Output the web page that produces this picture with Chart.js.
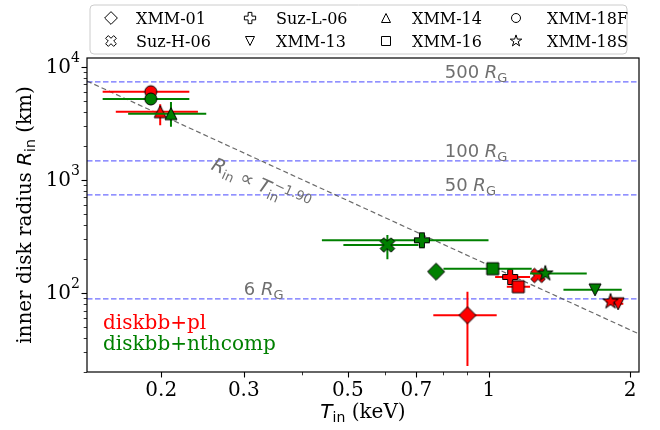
<!DOCTYPE html>
<html>
<head>
<meta charset="utf-8">
<script src="https://cdn.jsdelivr.net/npm/chart.js@4.4.1/dist/chart.umd.min.js"></script>
<style>
  html, body { margin: 0; padding: 0; background: #fff; }
</style>
</head>
<body>
<canvas id="chart" width="660" height="430"></canvas>
<script>
// observations, in legend order (matplotlib fills columns first)
const obsNames   = ['XMM-01', 'Suz-H-06', 'Suz-L-06', 'XMM-13', 'XMM-14', 'XMM-16', 'XMM-18F', 'XMM-18S'];
const obsMarkers = ['D', 'X', 'P', 'v', '^', 's', 'o', '*'];

// diskbb+pl (red): T_in (keV), R_in (km) and their error ranges
const plT    = [0.900, 1.273, 1.110, 1.886, 0.199, 1.155, 0.190, 1.817];
const plTlo  = [0.761, 1.250, 1.031, 1.840, 0.160, 1.092, 0.150, 1.775];
const plThi  = [1.039, 1.300, 1.224, 1.935, 0.2395, 1.224, 0.2296, 1.860];
const plR    = [63.5, 142.9, 138.6, 80.3, 4020, 113.7, 6040, 84.1];
const plRlo  = [22.6, 136, 128, 77, 3048, 108, 5800, 80];
const plRhi  = [102.7, 150, 150, 84, 4677, 120, 6300, 88];

// diskbb+nthcomp (green)
const ncT    = [0.7716, 0.6074, 0.7195, 1.684, 0.2098, 1.019, 0.190, 1.319];
const ncTlo  = [0.760, 0.4893, 0.4403, 1.442, 0.170, 0.800, 0.150, 1.224];
const ncThi  = [0.783, 0.7076, 0.998, 1.920, 0.2495, 1.234, 0.2296, 1.617];
const ncR    = [154.4, 266, 292.6, 106.7, 3863, 164, 5210, 148.8];
const ncRlo  = [150, 199, 275, 103, 2963, 158, 5000, 140];
const ncRhi  = [159, 326, 310, 110, 4900, 170, 5400, 160];

// reference radii (km) for 6, 50, 100, 500 R_G
const rgNames  = ['6', '50', '100', '500'];
const rgValues = [88.6, 738, 1477, 7385];

// R_in ∝ T_in^-1.90 line, end points
const fitT = [0.1389, 2.09];
const fitR = [7500, 43.4];

// axis limits and ticks
const xLim   = [0.1389, 2.09];
const yLim   = [20, 12000];
const xMajor = [0.2, 0.3, 0.5, 0.7, 1, 2];
const xMinor = [0.4, 0.6, 0.8, 0.9];
const yMajor = [100, 1000, 10000];
const yMinor = [20, 30, 40, 50, 60, 70, 80, 90, 200, 300, 400, 500, 600, 700, 800, 900,
                2000, 3000, 4000, 5000, 6000, 7000, 8000, 9000];

const SERIF = '"DejaVu Serif", serif';
const SANS  = '"DejaVu Sans", sans-serif';
const RED   = '#ff0000';
const GREEN = '#008000';

/**
 * Build a matplotlib-like marker as a small canvas (used as pointStyle).
 * The filled plus, filled x and star look larger than their nominal size.
 */
function make_marker(kind, fill, ms) {
  const scale = { P: 1.25, X: 1.2, '*': 1.35 }[kind] || 1;
  const m = ms * scale;
  const size = 2 * Math.ceil(m * 0.75 + 2);
  const cv = document.createElement('canvas');
  cv.width = cv.height = size;
  const g = cv.getContext('2d');
  const c = size / 2;
  const h = m / 2;
  let pts = null;
  g.beginPath();
  switch (kind) {
    case 'o': g.arc(c, c, h, 0, Math.PI * 2); break;
    case 's': pts = [[-h, -h], [h, -h], [h, h], [-h, h]]; break;
    case 'D': { const d = h * Math.SQRT2; pts = [[0, -d], [d, 0], [0, d], [-d, 0]]; break; }
    case '^': pts = [[0, -h], [h, h], [-h, h]]; break;
    case 'v': pts = [[0, h], [h, -h], [-h, -h]]; break;
    case 'P':
      pts = [[-1, -3], [1, -3], [1, -1], [3, -1], [3, 1], [1, 1],
             [1, 3], [-1, 3], [-1, 1], [-3, 1], [-3, -1], [-1, -1]].map(([x, y]) => [x * m / 6, y * m / 6]);
      break;
    case 'X':
      pts = [[-1, -2], [0, -1], [1, -2], [2, -1], [1, 0], [2, 1],
             [1, 2], [0, 1], [-1, 2], [-2, 1], [-1, 0], [-2, -1]].map(([x, y]) => [x * m / 4, y * m / 4]);
      break;
    case '*':
      pts = [];
      for (let i = 0; i < 10; i++) {
        const r = i % 2 === 0 ? h : h * 0.381966;
        const a = -Math.PI / 2 + i * Math.PI / 5;
        pts.push([r * Math.cos(a), r * Math.sin(a)]);
      }
      break;
  }
  if (pts) {
    pts.forEach(([x, y], i) => i === 0 ? g.moveTo(c + x, c + y) : g.lineTo(c + x, c + y));
    g.closePath();
  }
  g.fillStyle = fill;
  g.fill();
  g.lineWidth = 1;
  g.lineJoin = 'miter';
  g.strokeStyle = '#000';
  g.stroke();
  return cv;
}

// draw a list of text runs (for sub/superscripts), left to right
function draw_runs(ctx, runs, x, y, align) {
  let total = 0;
  runs.forEach(r => {
    ctx.font = r.font;
    r.w = ctx.measureText(r.t).width;
    if (!r.stack) total += r.w;
  });
  let cx = align === 'center' ? x - total / 2 : align === 'right' ? x - total : x;
  let prevX = cx;
  ctx.textAlign = 'left';
  ctx.textBaseline = 'alphabetic';
  runs.forEach(r => {
    ctx.font = r.font;
    if (r.stack) {
      ctx.fillText(r.t, prevX + (r.dx || 0), y + (r.dy || 0));
      return;
    }
    prevX = cx;
    ctx.fillText(r.t, cx, y + (r.dy || 0));
    cx += r.w;
  });
}

const pts = (xs, ys) => xs.map((v, i) => ({ x: v, y: ys[i] }));
const errs = (tl, th, rl, rh) => tl.map((v, i) => ({ xlo: v, xhi: th[i], ylo: rl[i], yhi: rh[i] }));

/** error bars drawn just before the markers of their own dataset */
const errorBars = {
  id: 'errorBars',
  beforeDatasetDraw(chart, args) {
    const ds = chart.data.datasets[args.index];
    if (!ds.err) return;
    const { x, y } = chart.scales;
    const a = chart.chartArea;
    const ctx = chart.ctx;
    ctx.save();
    ctx.beginPath();
    ctx.rect(a.left, a.top, a.right - a.left, a.bottom - a.top);
    ctx.clip();
    ctx.strokeStyle = ds.errColor;
    ctx.lineWidth = 2;
    ds.data.forEach((p, i) => {
      const e = ds.err[i];
      const px = x.getPixelForValue(p.x);
      const py = y.getPixelForValue(p.y);
      ctx.beginPath();
      ctx.moveTo(x.getPixelForValue(e.xlo), py);
      ctx.lineTo(x.getPixelForValue(e.xhi), py);
      ctx.moveTo(px, y.getPixelForValue(e.ylo));
      ctx.lineTo(px, y.getPixelForValue(e.yhi));
      ctx.stroke();
    });
    ctx.restore();
  }
};

/** frame, ticks, y labels, axis titles, annotations and legend */
const decorations = {
  id: 'decorations',
  afterDraw(chart) {
    const { x, y } = chart.scales;
    const a = chart.chartArea;
    const ctx = chart.ctx;
    ctx.save();

    // annotations: R_G labels
    ctx.fillStyle = '#6f6f6f';
    rgNames.forEach((n, i) => {
      const tx = x.getPixelForValue(n === '6' ? 0.3 : 0.805);
      const ty = y.getPixelForValue(rgValues[i]) - 4;
      draw_runs(ctx, [
        { t: n + ' ', font: `18px ${SANS}` },
        { t: 'R', font: `italic 18px ${SANS}` },
        { t: 'G', font: `13px ${SANS}`, dy: 4 }
      ], tx, ty, 'left');
    });

    // power-law label, rotated along the line
    ctx.save();
    ctx.translate(x.getPixelForValue(0.2544), y.getPixelForValue(1250));
    ctx.rotate(24 * Math.PI / 180);
    ctx.fillStyle = '#6f6f6f';
    draw_runs(ctx, [
      { t: 'R', font: `italic 19px ${SANS}` },
      { t: 'in', font: `13px ${SANS}`, dy: 4 },
      { t: ' \u221d ', font: `19px ${SANS}` },
      { t: 'T', font: `italic 19px ${SANS}` },
      { t: 'in', font: `13px ${SANS}`, dy: 4 },
      { t: '\u22121.90', font: `13px ${SANS}`, dy: -8, stack: true, dx: 3 }
    ], 0, 0, 'left');
    ctx.restore();

    // model labels
    ctx.font = `20px ${SERIF}`;
    ctx.textAlign = 'left';
    ctx.textBaseline = 'alphabetic';
    ctx.fillStyle = RED;
    ctx.fillText('diskbb+pl', a.left + 16, 329);
    ctx.fillStyle = GREEN;
    ctx.fillText('diskbb+nthcomp', a.left + 16, 350);

    // frame
    ctx.strokeStyle = '#000';
    ctx.lineWidth = 1.2;
    ctx.strokeRect(a.left, a.top, a.right - a.left, a.bottom - a.top);

    // ticks
    const tick = (px, py, dx, dy, w) => {
      ctx.lineWidth = w;
      ctx.beginPath();
      ctx.moveTo(px, py);
      ctx.lineTo(px + dx, py + dy);
      ctx.stroke();
    };
    xMajor.forEach(v => tick(Math.round(x.getPixelForValue(v)) + 0.5, a.bottom, 0, 5.5, 1.1));
    xMinor.forEach(v => tick(Math.round(x.getPixelForValue(v)) + 0.5, a.bottom, 0, 3.3, 0.8));
    yMajor.forEach(v => tick(a.left, Math.round(y.getPixelForValue(v)) + 0.5, -5.5, 0, 1.1));
    yMinor.forEach(v => tick(a.left, Math.round(y.getPixelForValue(v)) + 0.5, -3.3, 0, 0.8));

    // y tick labels 10^n
    ctx.fillStyle = '#000';
    yMajor.forEach(v => {
      const py = y.getPixelForValue(v);
      draw_runs(ctx, [
        { t: '10', font: `20px ${SERIF}`, dy: 6.5 },
        { t: String(Math.round(Math.log10(v))), font: `14px ${SERIF}`, dy: -5 }
      ], a.left - 7, py, 'right');
    });

    // axis titles
    draw_runs(ctx, [
      { t: 'T', font: `italic 20px ${SANS}` },
      { t: 'in', font: `14px ${SANS}`, dy: 4 },
      { t: ' (keV)', font: `20px ${SERIF}` }
    ], (a.left + a.right) / 2, 418, 'center');

    ctx.save();
    ctx.translate(31, (a.top + a.bottom) / 2);
    ctx.rotate(-Math.PI / 2);
    draw_runs(ctx, [
      { t: 'inner disk radius ', font: `20px ${SERIF}` },
      { t: 'R', font: `italic 20px ${SANS}` },
      { t: 'in', font: `14px ${SANS}`, dy: 4 },
      { t: ' (km)', font: `20px ${SERIF}` }
    ], 0, 0, 'center');
    ctx.restore();

    // legend
    const bx = 90, by = 5, bw = 537, bh = 49, r = 4;
    ctx.beginPath();
    ctx.moveTo(bx + r, by);
    ctx.arcTo(bx + bw, by, bx + bw, by + bh, r);
    ctx.arcTo(bx + bw, by + bh, bx, by + bh, r);
    ctx.arcTo(bx, by + bh, bx, by, r);
    ctx.arcTo(bx, by, bx + bw, by, r);
    ctx.closePath();
    ctx.fillStyle = 'rgba(255,255,255,0.8)';
    ctx.fill();
    ctx.strokeStyle = '#cccccc';
    ctx.lineWidth = 1;
    ctx.stroke();

    const markX = [111, 250, 386, 516];
    const textX = [136, 276, 412, 547];
    const rowY  = [18, 41];
    obsNames.forEach((n, i) => {
      const col = Math.floor(i / 2), row = i % 2;
      const mk = make_marker(obsMarkers[i], '#fff', 9);
      ctx.drawImage(mk, Math.round(markX[col] - mk.width / 2), Math.round(rowY[row] - mk.height / 2));
      ctx.font = `16px ${SERIF}`;
      ctx.fillStyle = '#000';
      ctx.textAlign = 'left';
      ctx.textBaseline = 'alphabetic';
      ctx.fillText(n, textX[col], rowY[row] + 5.5);
    });

    ctx.restore();
  }
};

function build_datasets() {
  const sets = [];
  // reference radius lines
  rgValues.forEach(v => sets.push({
    data: pts(xLim, [v, v]), showLine: true, borderColor: 'rgba(60,60,255,0.75)',
    borderWidth: 1.2, borderDash: [5.5, 2.5], pointRadius: 0, order: 6
  }));
  // power-law fit
  sets.push({
    data: pts(fitT, fitR), showLine: true, borderColor: 'rgba(80,80,80,0.85)',
    borderWidth: 1.2, borderDash: [5, 3], pointRadius: 0, order: 5
  });
  // diskbb+pl
  sets.push({
    data: pts(plT, plR), err: errs(plTlo, plThi, plRlo, plRhi), errColor: RED,
    pointStyle: obsMarkers.map(k => make_marker(k, RED, 12)), pointRadius: 6, order: 2
  });
  // diskbb+nthcomp
  sets.push({
    data: pts(ncT, ncR), err: errs(ncTlo, ncThi, ncRlo, ncRhi), errColor: GREEN,
    pointStyle: obsMarkers.map(k => make_marker(k, GREEN, 12)), pointRadius: 6, order: 1
  });
  return sets;
}

document.addEventListener('DOMContentLoaded', () => {
  const ctx = document.getElementById('chart').getContext('2d');
  new Chart(ctx, {
    type: 'scatter',
    data: { datasets: build_datasets() },
    plugins: [errorBars, decorations],
    options: {
      responsive: false,
      animation: false,
      devicePixelRatio: 1,
      events: [],
      layout: { padding: { left: 0, top: 58, right: 21, bottom: 0 } },
      plugins: { legend: { display: false }, tooltip: { enabled: false } },
      scales: {
        x: {
          type: 'logarithmic', min: xLim[0], max: xLim[1],
          afterBuildTicks: s => { s.ticks = xMajor.map(v => ({ value: v })); },
          afterFit: s => { s.height = 58; },
          ticks: {
            autoSkip: false, maxRotation: 0, padding: 7, color: '#000',
            font: { family: 'DejaVu Serif', size: 20 },
            callback: v => String(v)
          },
          grid: { display: false, drawTicks: false },
          border: { display: false }
        },
        y: {
          type: 'logarithmic', min: yLim[0], max: yLim[1],
          afterFit: s => { s.width = 87; },
          ticks: { display: false },
          grid: { display: false, drawTicks: false },
          border: { display: false }
        }
      }
    }
  });
});
</script>
</body>
</html>
